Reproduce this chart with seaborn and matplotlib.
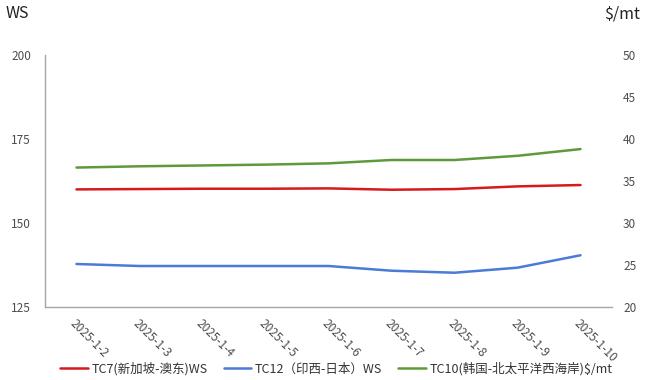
import matplotlib
matplotlib.use("Agg")
import matplotlib.pyplot as plt
import seaborn as sns
import pandas as pd

dates = ["2025-1-2", "2025-1-3", "2025-1-4", "2025-1-5", "2025-1-6",
         "2025-1-7", "2025-1-8", "2025-1-9", "2025-1-10"]
tc7_ws = [160.0, 160.1, 160.2, 160.2, 160.3, 159.9, 160.1, 160.9, 161.3]
tc12_ws = [137.8, 137.2, 137.2, 137.2, 137.2, 135.8, 135.2, 136.7, 140.4]
tc10_usd = [36.6, 36.75, 36.85, 36.95, 37.1, 37.5, 37.5, 38.0, 38.8]

labels = ["TC7(新加坡-澳东)WS", "TC12（印西-日本）WS", "TC10(韩国-北太平洋西海岸)\\$/mt"]
left_ticks = [125, 150, 175, 200]
right_ticks = [20, 25, 30, 35, 40, 45, 50]

sns.set_theme(style="white")
plt.rcParams["font.family"] = ["Noto Sans CJK SC", "DejaVu Sans"]

c_red = "#D7191C"
c_blue = "#4A7BD8"
c_green = "#5E9A3C"
gray = "#4D4D4D"

df = pd.DataFrame({"x": list(range(len(dates))), "tc7": tc7_ws, "tc12": tc12_ws, "tc10": tc10_usd})

fig = plt.figure(figsize=(6.7, 3.8), dpi=100)
ax = fig.add_axes([45 / 670, 1 - 307 / 380, 567 / 670, 252 / 380])
ax2 = ax.twinx()

sns.lineplot(data=df, x="x", y="tc7", ax=ax, color=c_red, linewidth=1.8, label=labels[0], legend=False)
sns.lineplot(data=df, x="x", y="tc12", ax=ax, color=c_blue, linewidth=1.8, label=labels[1], legend=False)
sns.lineplot(data=df, x="x", y="tc10", ax=ax2, color=c_green, linewidth=1.8, label=labels[2], legend=False)

ax.set_xlim(-0.5, len(dates) - 0.5)
ax.set_ylim(125, 200)
ax2.set_ylim(20, 50)
ax.set_yticks(left_ticks)
ax2.set_yticks(right_ticks)
ax.set_xticks(range(len(dates)))
ax.set_xticklabels(dates, rotation=-45, ha="left", va="top", rotation_mode="anchor",
                   fontsize=8.5, color=gray)
ax.tick_params(axis="x", length=0, pad=7)
ax.tick_params(axis="y", length=0, pad=10, labelsize=8.5, labelcolor=gray)
ax2.tick_params(axis="y", length=0, pad=8, labelsize=8.5, labelcolor=gray)
ax.set_xlabel("")
ax.set_ylabel("")
ax2.set_ylabel("")

for a in (ax, ax2):
    for s in a.spines.values():
        s.set_visible(False)
ax.spines["left"].set_visible(True)
ax.spines["bottom"].set_visible(True)
ax.spines["left"].set_color("#A6A6A6")
ax.spines["bottom"].set_color("#A6A6A6")
ax.spines["left"].set_linewidth(1.0)
ax.spines["bottom"].set_linewidth(1.0)
ax.grid(False)
ax2.grid(False)

fig.text(6 / 670, 1 - 14 / 380, "WS", fontsize=11.5, color="#222222", va="center", ha="left")
fig.text(604 / 670, 1 - 14 / 380, "$/mt", fontsize=11.5, color="#222222", va="center", ha="left")

h1, l1 = ax.get_legend_handles_labels()
h2, l2 = ax2.get_legend_handles_labels()
fig.legend(h1 + h2, l1 + l2, loc="center", bbox_to_anchor=(0.502, 1 - 369 / 380), ncol=3,
           frameon=False, fontsize=9, handlelength=2.2, handletextpad=0.3, columnspacing=1.3,
           labelcolor="#333333")

fig.savefig("out.png", dpi=100)
